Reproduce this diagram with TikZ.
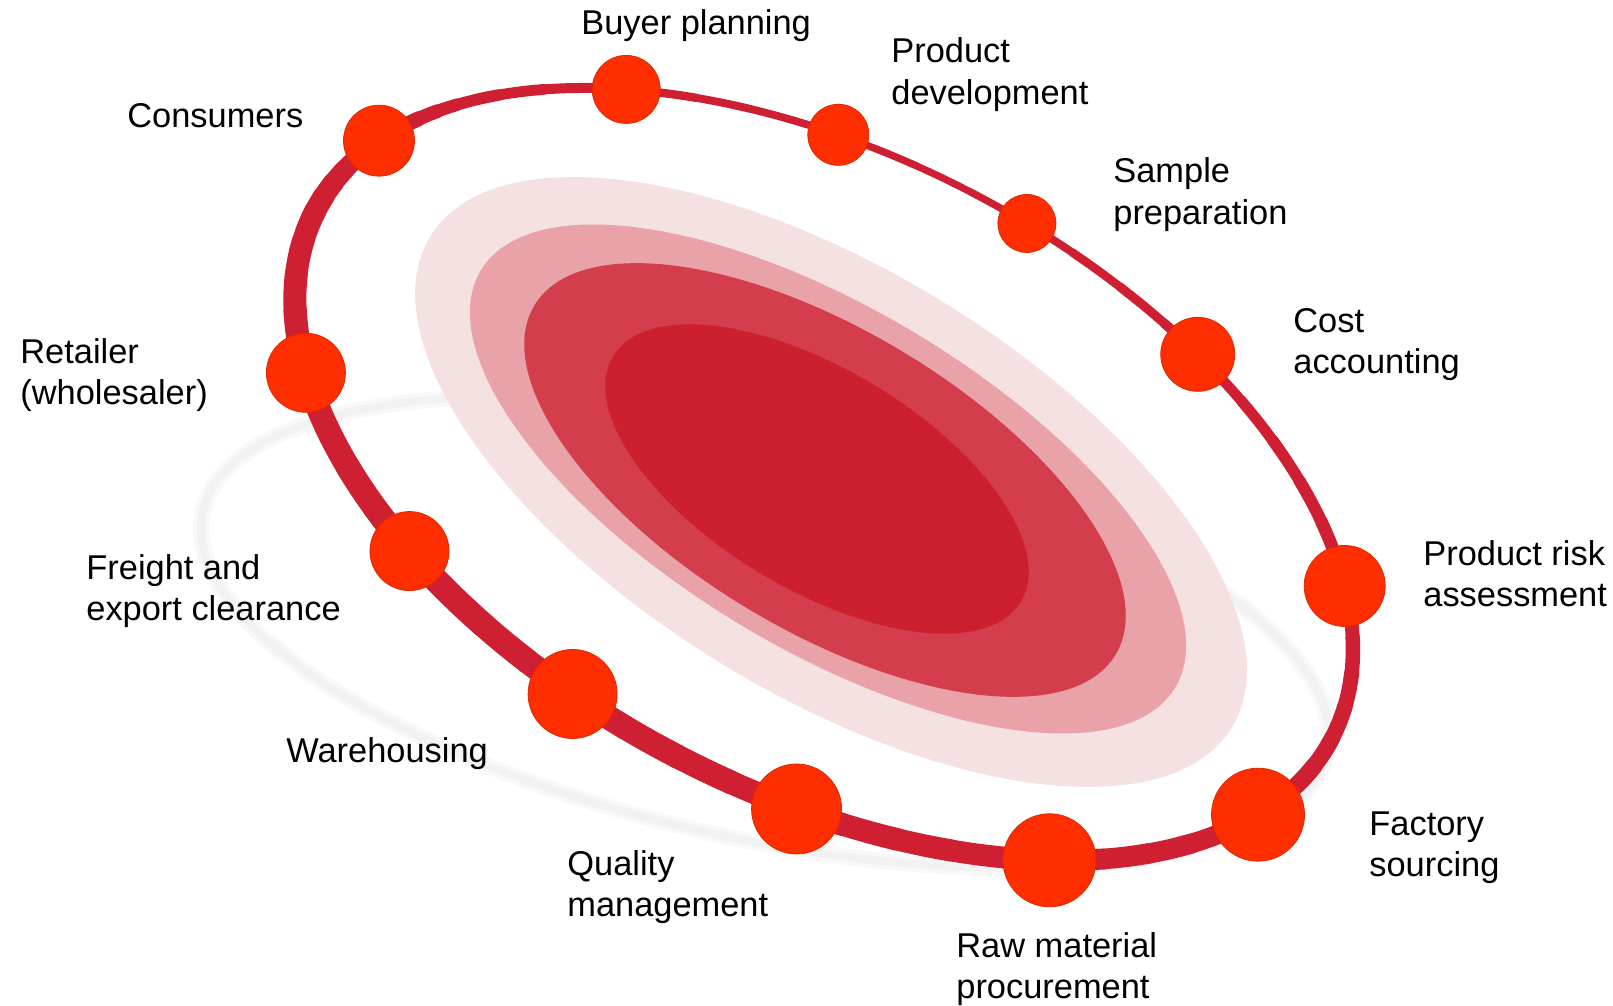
\documentclass[tikz,border=0pt]{standalone}
\usepackage{fontspec}
\setmainfont{Liberation Sans}
\definecolor{ringred}{RGB}{206,32,50}
\definecolor{dotred}{RGB}{254,46,0}
\definecolor{layA}{RGB}{245,224,226}
\definecolor{layB}{RGB}{232,162,168}
\definecolor{layC}{RGB}{211,61,76}
\definecolor{layD}{RGB}{204,31,47}
\definecolor{shadowlight}{RGB}{248,248,248}
\definecolor{shadowgray}{RGB}{242,242,242}
\newcommand\twoline[2]{\begin{tabular}[t]{@{}l@{}}#1\\#2\end{tabular}}
\begin{document}
\begin{tikzpicture}[x=0.5pt,y=-0.5pt,
  lab/.style={anchor=base west, inner sep=0pt, font=\fontsize{17.2}{20.75}\selectfont},
  dot/.style={circle, fill=dotred, draw=dotred!88!black, line width=0.4pt, inner sep=0pt},
]
\useasboundingbox[fill=white] (0,0) rectangle (1613,1006);

% faint shadow ring
\draw[shadowlight, line width=8pt, rotate around={-12:(765,632)}] (765,632) ellipse[x radius=575, y radius=208];
\draw[shadowgray, line width=4pt, rotate around={-12:(765,632)}] (765,632) ellipse[x radius=575, y radius=208];

% inner layered ellipses
\fill[layA, rotate around={-31.5:(831,482)}] (831,482) ellipse[x radius=470, y radius=212];
\fill[layB, rotate around={-31:(828,479)}] (828,479) ellipse[x radius=405, y radius=170];
\fill[layC, rotate around={-31:(825,480)}] (825,480) ellipse[x radius=339, y radius=150];
\fill[layD, rotate around={-31:(817,479)}] (817,479) ellipse[x radius=238, y radius=110];

% ring with varying thickness, and the dots
\begin{scope}[shift={(823.9,474.2)}, rotate=-27.4]
  \foreach \ta/\tb/\wa/\wb in {-180/-165/22/18, -165/-150/18/12, -150/-120/12/8, -120/-90/8/7,
      -90/-60/7/10, -60/-30/10/13, -30/0/13/16, 0/30/16/20, 30/60/20/22, 60/90/22/24,
      90/120/24/25, 120/150/25/24, 150/180/24/22}{
    \foreach \k in {0,...,4}{
      \pgfmathsetmacro\s{\ta+(\tb-\ta)*\k/5}
      \pgfmathsetmacro\e{\ta+(\tb-\ta)*(\k+1)/5}
      \pgfmathsetmacro\w{0.5*(\wa+(\wb-\wa)*(\k+0.5)/5)}
      \draw[ringred, line width={\w pt}, line cap=round]
        plot[domain=\s:\e, samples=5] ({572.7*cos(\x)},{318.1*sin(\x)});
    }
  }
  \node[dot, minimum size=34pt]   (buyer)     at ({572.7*cos(-128)},{318.1*sin(-128)}) {};
  \node[dot, minimum size=30.5pt] (proddev)   at ({572.7*cos(-104.5)},{318.1*sin(-104.5)}) {};
  \node[dot, minimum size=29pt]   (sample)    at ({572.7*cos(-83.5)},{318.1*sin(-83.5)}) {};
  \node[dot, minimum size=37pt]   (cost)      at ({572.7*cos(-61.1)},{318.1*sin(-61.1)}) {};
  \node[dot, minimum size=40.5pt] (risk)      at ({572.7*cos(-26.2)},{318.1*sin(-26.2)}) {};
  \node[dot, minimum size=46.5pt] (factory)   at ({572.7*cos(18.8)},{318.1*sin(18.8)}) {};
  \node[dot, minimum size=46.5pt] (raw)       at ({572.7*cos(48.7)},{318.1*sin(48.7)}) {};
  \node[dot, minimum size=45pt]   (quality)   at ({572.7*cos(76.9)},{318.1*sin(76.9)}) {};
  \node[dot, minimum size=44.5pt] (warehouse) at ({572.7*cos(102.3)},{318.1*sin(102.3)}) {};
  \node[dot, minimum size=39.5pt] (freight)   at ({572.7*cos(125.5)},{318.1*sin(125.5)}) {};
  \node[dot, minimum size=39.5pt] (retailer)  at ({572.7*cos(152.2)},{318.1*sin(152.2)}) {};
  \node[dot, minimum size=35.5pt] (consumers) at ({572.7*cos(196.7)},{318.1*sin(196.7)}) {};
\end{scope}

% labels
\node[lab] (lbuyer)     at (581,35)   {Buyer planning};
\node[lab] (lproddev)   at (891,63)   {\twoline{Product}{development}};
\node[lab] (lsample)    at (1113,183) {\twoline{Sample}{preparation}};
\node[lab] (lcost)      at (1293,332) {\twoline{Cost}{accounting}};
\node[lab] (lrisk)      at (1423,565) {\twoline{Product risk}{assessment}};
\node[lab] (lfactory)   at (1369,835) {\twoline{Factory}{sourcing}};
\node[lab] (lraw)       at (956,957)  {\twoline{Raw material}{procurement}};
\node[lab] (lquality)   at (567,875)  {\twoline{Quality}{management}};
\node[lab] (lwarehouse) at (286,762)  {Warehousing};
\node[lab] (lfreight)   at (86,579)   {\twoline{Freight and}{export clearance}};
\node[lab] (lretailer)  at (20,363)   {\twoline{Retailer}{(wholesaler)}};
\node[lab] (lconsumers) at (127,128)  {Consumers};
\end{tikzpicture}
\end{document}
